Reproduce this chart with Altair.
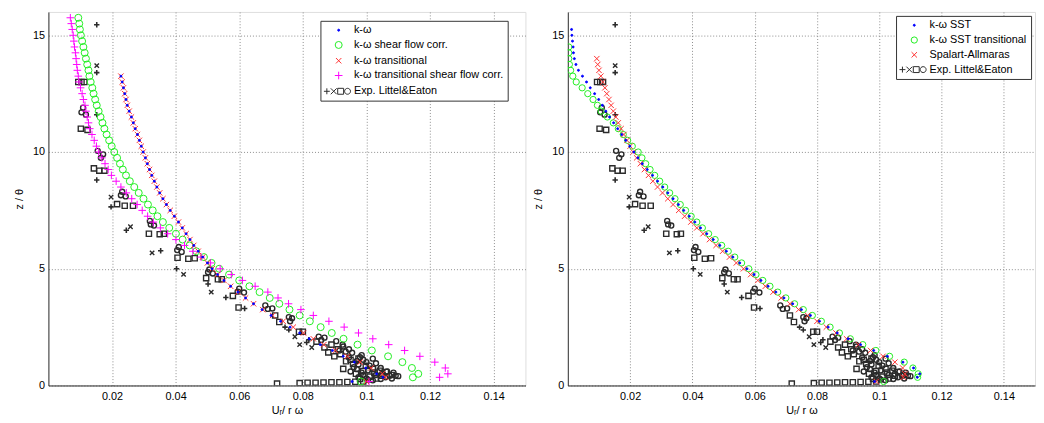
import altair as alt
import pandas as pd

FONT = "Liberation Sans"

# ---------------- data ----------------
Z_LEVELS = [15.75, 15.5, 15.25, 15.0, 14.75, 14.5, 14.25, 14.0,
            13.75, 13.5, 13.25, 13.0, 12.75, 12.5, 12.25, 12.0,
            11.75, 11.5, 11.25, 11.0, 10.75, 10.5, 10.25, 10.0,
            9.75, 9.5, 9.25, 9.0, 8.75, 8.5, 8.25, 8.0,
            7.75, 7.5, 7.25, 7.0, 6.75, 6.5, 6.25, 6.0,
            5.75, 5.5, 5.25, 5.0, 4.75, 4.5, 4.25, 4.0,
            3.75, 3.5, 3.25, 3.0, 2.75, 2.5, 2.25, 2.0,
            1.75, 1.5, 1.25, 1.0, 0.75, 0.5, 0.35, 0.17]

# left panel
KW = [None] * 10 + [
    0.0228, 0.0232, 0.0236, 0.0240, 0.0244, 0.0248,
    0.0254, 0.0261, 0.0267, 0.0273, 0.0280, 0.0286, 0.0292, 0.0298,
    0.0305, 0.0311, 0.0318, 0.0325, 0.0333, 0.0341, 0.0350, 0.0360,
    0.0371, 0.0383, 0.0396, 0.0409, 0.0421, 0.0433, 0.0445, 0.0457,
    0.0471, 0.0485, 0.0500, 0.0515, 0.0532, 0.0552, 0.0573, 0.0596,
    0.0620, 0.0645, 0.0672, 0.0700, 0.0730, 0.0760, 0.0790, 0.0820,
    0.0855, 0.0893, 0.0927, 0.0962, 0.0998, 0.1032,
    0.1052, 0.0955]
KW_TRANS = [None] * 10 + [
    0.0228, 0.0232, 0.0236, 0.0240, 0.0244, 0.0248,
    0.0254, 0.0261, 0.0267, 0.0273, 0.0280, 0.0286, 0.0292, 0.0298,
    0.0305, 0.0311, 0.0318, 0.0325, 0.0333, 0.0341, 0.0350, 0.0360,
    0.0371, 0.0383, 0.0396, 0.0409, 0.0421, 0.0433, 0.0445, 0.0457,
    0.0471, 0.0485, 0.0500, 0.0515, 0.0532, 0.0552, 0.0573, 0.0596,
    0.0620, 0.0645, 0.0674, 0.0705, 0.0738, 0.0770, 0.0802, 0.0833,
    0.0866, 0.0902, 0.0940, 0.0980, 0.1015, 0.1050,
    0.1060, 0.1000]
KW_SFC = [
    0.0094, 0.0097, 0.0099, 0.0102, 0.0106, 0.0110, 0.0114, 0.0118,
    0.0122, 0.0126, 0.0129, 0.0133, 0.0138, 0.0142, 0.0147, 0.0152,
    0.0158, 0.0164, 0.0170, 0.0176, 0.0183, 0.0191, 0.0199, 0.0207,
    0.0216, 0.0225, 0.0234, 0.0244, 0.0256, 0.0270, 0.0284, 0.0299,
    0.0313, 0.0328, 0.0343, 0.0360, 0.0380, 0.0401, 0.0422, 0.0444,
    0.0465, 0.0489, 0.0513, 0.0537, 0.0568, 0.0600, 0.0632, 0.0664,
    0.0696, 0.0726, 0.0758, 0.0790, 0.0822, 0.0856, 0.0891, 0.0928,
    0.0972, 0.1017, 0.1068, 0.1113, 0.1143, 0.1163,
    0.1146, 0.0983]
KW_TRANS_SFC = [
    0.0069, 0.0072, 0.0075, 0.0078, 0.0080, 0.0082, 0.0085, 0.0087,
    0.0089, 0.0091, 0.0094, 0.0096, 0.0101, 0.0106, 0.0110, 0.0115,
    0.0118, 0.0122, 0.0126, 0.0130, 0.0137, 0.0144, 0.0151, 0.0158,
    0.0168, 0.0178, 0.0188, 0.0198, 0.0213, 0.0228, 0.0245, 0.0262,
    0.0279, 0.0295, 0.0312, 0.0330, 0.0352, 0.0375, 0.0401, 0.0428,
    0.0454, 0.0480, 0.0510, 0.0540, 0.0575, 0.0610, 0.0650, 0.0690,
    0.0722, 0.0755, 0.0794, 0.0833, 0.0882, 0.0930, 0.0975, 0.1020,
    0.1070, 0.1120, 0.1168, 0.1215, 0.1248, 0.1256,
    0.1230, 0.1008]

# right panel
SST = [None] * 2 + [
    0.0012, 0.0013, 0.0015, 0.0017, 0.0018, 0.0021,
    0.0026, 0.0034, 0.0047, 0.0060, 0.0072, 0.0086, 0.0099, 0.0111,
    0.0122, 0.0134, 0.0147, 0.0160, 0.0173, 0.0186, 0.0199, 0.0212,
    0.0225, 0.0239, 0.0255, 0.0272, 0.0288, 0.0305, 0.0321, 0.0338,
    0.0355, 0.0372, 0.0390, 0.0408, 0.0426, 0.0446, 0.0467, 0.0488,
    0.0509, 0.0530, 0.0552, 0.0575, 0.0598, 0.0620, 0.0643, 0.0668,
    0.0694, 0.0722, 0.0750, 0.0779, 0.0808, 0.0836, 0.0865, 0.0900,
    0.0940, 0.0982, 0.1026, 0.1076, 0.1110, 0.1130,
    0.1122, 0.0985]
SST_TRANS = [None] * 5 + [
    0.0003, 0.0003, 0.0003,
    0.0005, 0.0009, 0.0016, 0.0027, 0.0046, 0.0064, 0.0081, 0.0095,
    0.0107, 0.0127, 0.0146, 0.0162, 0.0178, 0.0192, 0.0207, 0.0226,
    0.0238, 0.0250, 0.0264, 0.0279, 0.0295, 0.0311, 0.0327, 0.0344,
    0.0361, 0.0378, 0.0396, 0.0414, 0.0432, 0.0452, 0.0473, 0.0494,
    0.0515, 0.0536, 0.0558, 0.0581, 0.0604, 0.0626, 0.0649, 0.0674,
    0.0700, 0.0728, 0.0756, 0.0785, 0.0814, 0.0842, 0.0872, 0.0907,
    0.0947, 0.0989, 0.1033, 0.1080, 0.1108, 0.1125,
    0.1123, 0.1014]
SA = [None] * 7 + [
    0.0093,
    0.0096, 0.0100, 0.0106, 0.0112, 0.0119, 0.0125, 0.0132, 0.0139,
    0.0146, 0.0154, 0.0162, 0.0171, 0.0180, 0.0190, 0.0200, 0.0210,
    0.0221, 0.0233, 0.0246, 0.0259, 0.0273, 0.0288, 0.0304, 0.0321,
    0.0338, 0.0356, 0.0375, 0.0395, 0.0414, 0.0434, 0.0455, 0.0476,
    0.0497, 0.0519, 0.0541, 0.0564, 0.0587, 0.0610, 0.0634, 0.0659,
    0.0685, 0.0713, 0.0741, 0.0770, 0.0800, 0.0830, 0.0861, 0.0895,
    0.0933, 0.0972, 0.1012, 0.1050, 0.1075, 0.1082,
    0.1077, 0.0990]

# experimental data (Littel & Eaton), shared by both panels
EXP_SQ_U = [0.0094, 0.0104, 0.0113, 0.0102, 0.0123, 0.0143, 0.0160, 0.0176,
            0.0216, 0.0240, 0.0266, 0.0316, 0.0350, 0.0363, 0.0406, 0.0440,
            0.0460, 0.0496, 0.0533, 0.0545, 0.0580, 0.0598, 0.0713, 0.0726,
            0.0788, 0.0800, 0.0843, 0.0868, 0.0880, 0.0899, 0.0918, 0.0936,
            0.0958, 0.0927, 0.0967, 0.0998, 0.1020, 0.1042, 0.1061, 0.1010,
            0.0719, 0.0790, 0.0815, 0.0840, 0.0865, 0.0890, 0.0915, 0.0940,
            0.0965, 0.0990,
            0.0890, 0.0910, 0.0950, 0.0975, 0.0990, 0.1025, 0.1050, 0.1030,
            0.0980, 0.1080]
EXP_SQ_Z = [13.0, 13.0, 13.0, 11.0, 10.95, 9.3, 9.2, 9.2,
            7.77, 7.7, 7.7, 6.5, 6.48, 6.5, 5.47, 5.43,
            5.45, 4.6, 4.55, 4.55, 3.84, 3.34, 3.0, 2.72,
            2.3, 2.3, 1.88, 1.63, 1.42, 1.25, 1.34, 1.04,
            0.92, 0.71, 0.5, 0.84, 0.71, 0.63, 0.58, 0.38,
            0.08, 0.10, 0.12, 0.12, 0.13, 0.14, 0.14, 0.15,
            0.16, 0.17,
            1.75, 1.55, 1.1, 1.15, 0.62, 0.55, 0.42, 0.3,
            0.28, 0.45]
EXP_CI_U = [0.0109, 0.0118, 0.0104, 0.0155, 0.0165, 0.0172, 0.0232, 0.0243,
            0.0228, 0.0319, 0.0332, 0.0322, 0.0410, 0.0419, 0.0405, 0.0506,
            0.0517, 0.0502, 0.0600, 0.0615, 0.0595, 0.0682, 0.0704, 0.0690,
            0.0756, 0.0766, 0.0760, 0.0850, 0.0868, 0.0858, 0.0927, 0.0945,
            0.0935, 0.0980, 0.0990, 0.0970, 0.1030, 0.1010, 0.1073, 0.1092,
            0.1050, 0.1080, 0.1045, 0.1020, 0.1000, 0.0975, 0.0950, 0.0985,
            0.1005, 0.0960,
            0.0905, 0.0925, 0.0915, 0.0955, 0.0945, 0.0985, 0.1000, 0.1020,
            0.0975, 0.1045, 0.1065, 0.1085, 0.1100, 0.1060, 0.1030, 0.0990,
            0.0970, 0.1005]
EXP_CI_Z = [11.9, 11.6, 11.7, 10.05, 9.75, 9.9, 8.3, 8.1,
            8.15, 7.05, 6.85, 6.9, 5.93, 5.72, 5.8, 4.97,
            4.8, 4.85, 4.15, 3.98, 4.02, 3.43, 3.3, 3.28,
            2.93, 2.88, 2.75, 2.09, 2.05, 1.95, 1.67, 1.55,
            1.45, 1.21, 1.1, 1.05, 0.95, 0.85, 0.42, 0.42,
            0.5, 0.3, 0.28, 0.22, 0.3, 0.35, 0.6, 0.55,
            0.65, 0.78,
            1.9, 1.75, 1.5, 1.4, 1.2, 1.3, 1.0, 1.15,
            0.9, 0.75, 0.6, 0.55, 0.4, 0.35, 0.45, 0.45,
            0.7, 0.25]
EXP_PL_U = [0.0152, 0.0152, 0.0152, 0.0152, 0.0197, 0.0245, 0.0353, 0.0403,
            0.0502, 0.0558, 0.0617, 0.0744, 0.0756, 0.0819, 0.0812]
EXP_PL_Z = [15.45, 13.4, 11.6, 8.8, 7.65, 6.65, 5.77, 5.0,
            4.35, 3.77, 3.3, 2.5, 2.38, 1.96, 1.84]
EXP_X_U = [0.0152, 0.0197, 0.0258, 0.0326, 0.0425, 0.0512, 0.0775, 0.0828, 0.0790]
EXP_X_Z = [13.7, 8.07, 6.8, 5.68, 4.76, 4.0, 2.09, 1.63, 1.75]

X_TICKS = [0.02, 0.04, 0.06, 0.08, 0.10, 0.12, 0.14]
Y_TICKS = [0, 5, 10, 15]

LEFT_NAMES = ["k-ω", "k-ω shear flow corr.", "k-ω transitional",
              "k-ω transitional shear flow corr.", "Exp. Littel&Eaton"]
RIGHT_NAMES = ["k-ω SST", "k-ω SST transitional", "Spalart-Allmaras",
               "Exp. Littel&Eaton"]

# ---------------- styles ----------------
XPATH = "M-1,-1L1,1M-1,1L1,-1"
PLUSPATH = "M-1,0L1,0M0,-1L0,1"
COMBO = ("M-5,0L-3,0M-4,-1L-4,1"
         "M-2.67,-1L-0.67,1M-2.67,1L-0.67,-1"
         "M-0.33,-1L1.67,-1L1.67,1L-0.33,1Z"
         "M4,0A1,1,0,1,1,2,0A1,1,0,1,1,4,0")
EXP_COLOR = "#2b2b2b"


def sim_frame(pairs):
    rows = []
    for name, vals in pairs:
        for z, u in zip(Z_LEVELS, vals):
            if u is not None:
                rows.append({"series": name, "u": u, "z": z})
    return pd.DataFrame(rows)


def exp_frame(us, zs):
    return pd.DataFrame({"u": us, "z": zs})


left_df = sim_frame([(LEFT_NAMES[1], KW_SFC), (LEFT_NAMES[3], KW_TRANS_SFC),
                     (LEFT_NAMES[2], KW_TRANS), (LEFT_NAMES[0], KW)])
right_df = sim_frame([(RIGHT_NAMES[1], SST_TRANS), (RIGHT_NAMES[2], SA),
                      (RIGHT_NAMES[0], SST)])

xaxis = alt.Axis(values=X_TICKS, format=".2~f", grid=True, ticks=False,
                 gridDash=[1, 2], gridColor="#8c8c8c", gridOpacity=1,
                 domainColor="#333333", labelFont=FONT, labelFontSize=11,
                 labelColor="black", labelPadding=5, title="Uᵣ/ r ω",
                 titleFont=FONT, titleFontSize=11, titleFontWeight="normal",
                 titleColor="black", titlePadding=3)
yaxis = alt.Axis(values=Y_TICKS, format="d", grid=True, ticks=False,
                 gridDash=[1, 2], gridColor="#8c8c8c", gridOpacity=1,
                 domainColor="#333333", labelFont=FONT, labelFontSize=11,
                 labelColor="black", labelPadding=4, title="z / θ",
                 titleFont=FONT, titleFontSize=11, titleFontWeight="normal",
                 titleColor="black", titlePadding=8)


def panel(sim_df, names, colors, fills, shapes, sizes, legend, width):
    xs = alt.Scale(domain=[0, 0.15], nice=False, zero=False)
    ys = alt.Scale(domain=[0, 16], nice=False, zero=False)
    X = alt.X("u:Q", scale=xs, axis=xaxis)
    Y = alt.Y("z:Q", scale=ys, axis=yaxis)
    layers = []
    for us, zs, shape, size, sw in [
        (EXP_SQ_U, EXP_SQ_Z, "square", 28, 1.4),
        (EXP_CI_U, EXP_CI_Z, "circle", 26, 1.4),
        (EXP_PL_U, EXP_PL_Z, PLUSPATH, 30, 1.6),
        (EXP_X_U, EXP_X_Z, XPATH, 20, 1.4),
    ]:
        layers.append(
            alt.Chart(exp_frame(us, zs)).mark_point(
                shape=shape, size=size, filled=False, color=EXP_COLOR,
                strokeWidth=sw, opacity=1, clip=True).encode(x=X, y=Y))
    sims = alt.Chart(sim_df).mark_point(
        filled=False, strokeWidth=1, opacity=1, clip=True).encode(
        x=X, y=Y,
        color=alt.Color("series:N", scale=alt.Scale(domain=names, range=colors),
                        legend=legend),
        fill=alt.Fill("series:N", scale=alt.Scale(domain=names, range=fills),
                      legend=legend),
        shape=alt.Shape("series:N", scale=alt.Scale(domain=names, range=shapes),
                        legend=legend),
        size=alt.Size("series:N",
                      scale=alt.Scale(type="ordinal", domain=names, range=sizes),
                      legend=legend),
    )
    layers.append(sims)
    return alt.layer(*layers).properties(width=width, height=379)


def make_legend(**pos):
    return alt.Legend(title=None, fillColor="white", strokeColor="#333333",
                      padding=4, labelFont=FONT, labelFontSize=11,
                      labelColor="black", symbolStrokeWidth=1,
                      symbolOffset=9, labelOffset=10, rowPadding=3, **pos)


left = panel(left_df, LEFT_NAMES,
             ["#0000ff", "#22ee22", "#ff3030", "#ff00ff", EXP_COLOR],
             ["#0000ff", "transparent", "transparent", "transparent", "transparent"],
             ["circle", "circle", XPATH, PLUSPATH, COMBO],
             [4, 50, 30, 60, 36],
             make_legend(orient="none", legendX=276, legendY=9), 484)
right = panel(right_df, RIGHT_NAMES,
              ["#0000ff", "#22ee22", "#ff3030", EXP_COLOR],
              ["#0000ff", "transparent", "transparent", "transparent"],
              ["circle", "circle", XPATH, COMBO],
              [4, 40, 30, 36],
              make_legend(orient="top-right", offset=4), 474)

chart = alt.hconcat(left, right, spacing=6).resolve_scale(
    color="independent", fill="independent", shape="independent",
    size="independent"
).resolve_legend(
    color="independent", fill="independent", shape="independent",
    size="independent"
).properties(
    padding={"left": 5, "top": 0, "right": 0, "bottom": 0}
).configure_view(stroke="#888888", strokeWidth=1).configure(font=FONT)

chart.save("out.html", embed_options={"renderer": "svg", "actions": False})
